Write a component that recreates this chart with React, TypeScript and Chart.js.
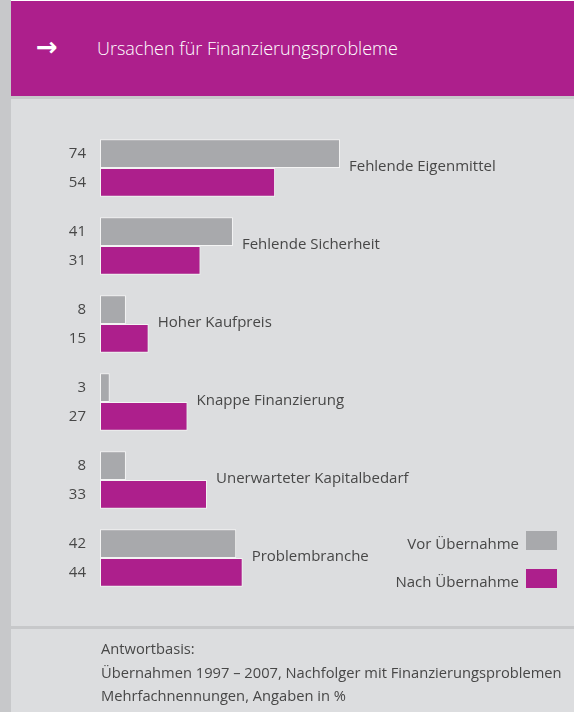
import React, { useEffect, useRef } from "react";
import { Chart, registerables } from "chart.js";

Chart.register(...registerables);

const categories = [
  "Fehlende Eigenmittel",
  "Fehlende Sicherheit",
  "Hoher Kaufpreis",
  "Knappe Finanzierung",
  "Unerwarteter Kapitalbedarf",
  "Problembranche",
];
const vorValues = [74, 41, 8, 3, 8, 42];
const nachValues = [54, 31, 15, 27, 33, 44];
const seriesNames = ["Vor Übernahme", "Nach Übernahme"];

const MAGENTA = "#ad1f8c";
const GREY = "#a8a9ac";
const BG = "#dcdddf";
const STRIP = "#c7c8ca";
const TEXT = "#474747";
const FONT = "'Open Sans', 'Noto Sans', sans-serif";

const labelsPlugin = {
  id: "customLabels",
  afterDatasetsDraw(chart: any) {
    const ctx = chart.ctx;
    ctx.save();
    ctx.font = `15px ${FONT}`;
    ctx.fillStyle = TEXT;
    ctx.textBaseline = "middle";
    const m0 = chart.getDatasetMeta(0);
    const m1 = chart.getDatasetMeta(1);
    const yScale = chart.scales.y;
    categories.forEach((cat, i) => {
      const b0 = m0.data[i];
      const b1 = m1.data[i];
      ctx.textAlign = "right";
      ctx.fillText(String(vorValues[i]), 86, b0.y);
      ctx.fillText(String(nachValues[i]), 86, b1.y);
      ctx.textAlign = "left";
      const maxX = Math.max(b0.x, b1.x);
      ctx.fillText(cat, maxX + 9, yScale.getPixelForValue(i) - 1);
    });
    // legend
    const legendItems = [
      { name: seriesNames[0], color: GREY, y: 540 },
      { name: seriesNames[1], color: MAGENTA, y: 578 },
    ];
    legendItems.forEach((it) => {
      ctx.textAlign = "right";
      ctx.fillStyle = TEXT;
      ctx.fillText(it.name, 519, it.y + 5);
      ctx.fillStyle = it.color;
      ctx.fillRect(526, it.y - 9, 31, 19);
    });
    ctx.restore();
  },
};

export default function App() {
  const ref = useRef<HTMLCanvasElement | null>(null);
  useEffect(() => {
    if (!ref.current) return;
    const chart = new Chart(ref.current, {
      type: "bar",
      data: {
        labels: categories,
        datasets: [
          {
            label: seriesNames[0],
            data: vorValues,
            backgroundColor: GREY,
            borderColor: "#f4f4f4",
            borderWidth: 1,
            borderSkipped: false,
            categoryPercentage: 0.735,
            barPercentage: 1,
          },
          {
            label: seriesNames[1],
            data: nachValues,
            backgroundColor: MAGENTA,
            borderColor: "#f4f4f4",
            borderWidth: 1,
            borderSkipped: false,
            categoryPercentage: 0.735,
            barPercentage: 1,
          },
        ],
      },
      options: {
        indexAxis: "y",
        animation: false,
        responsive: false,
        maintainAspectRatio: false,
        layout: { padding: { left: 100, right: 20, top: 129, bottom: 115 } },
        plugins: { legend: { display: false }, tooltip: { enabled: false } },
        scales: {
          x: { display: false, min: 0, max: 140, grid: { display: false } },
          y: { display: false, grid: { display: false } },
        },
      },
      plugins: [labelsPlugin],
    });
    return () => chart.destroy();
  }, []);

  const textStyle: React.CSSProperties = {
    position: "absolute",
    fontFamily: FONT,
    color: TEXT,
    fontSize: 14.7,
    whiteSpace: "nowrap",
    lineHeight: "24px",
  };

  return (
    <div
      style={{
        position: "fixed",
        left: 0,
        top: 0,
        width: 574,
        height: 712,
        background: BG,
        overflow: "hidden",
      }}
    >
      <div style={{ position: "absolute", left: 0, top: 0, width: 11, height: 712, background: STRIP }} />
      <div style={{ position: "absolute", left: 11, top: 0, width: 563, height: 1, background: "#ffffff" }} />
      <div style={{ position: "absolute", left: 11, top: 1, width: 563, height: 95, background: MAGENTA }} />
      <div style={{ position: "absolute", left: 11, top: 96, width: 563, height: 3, background: STRIP }} />
      <div style={{ position: "absolute", left: 11, top: 626, width: 563, height: 3, background: STRIP }} />
      <div
        style={{
          position: "absolute",
          left: 36,
          top: 32,
          color: "#ffffff",
          fontFamily: "'DejaVu Sans', sans-serif",
          fontSize: 26,
          lineHeight: "30px",
          fontWeight: 700,
        }}
      >
        →
      </div>
      <div
        style={{
          position: "absolute",
          left: 97,
          top: 34,
          color: "#ffffff",
          fontFamily: FONT,
          fontSize: 18,
          lineHeight: "28px",
          whiteSpace: "nowrap",
          fontWeight: 300,
        }}
      >
        Ursachen für Finanzierungsprobleme
      </div>
      <canvas ref={ref} width={574} height={712} style={{ position: "absolute", left: 0, top: 0 }} />
      <div style={{ ...textStyle, left: 101, top: 636 }}>Antwortbasis:</div>
      <div style={{ ...textStyle, left: 101, top: 660 }}>
        Übernahmen 1997 – 2007, Nachfolger mit Finanzierungsproblemen
      </div>
      <div style={{ ...textStyle, left: 101, top: 683 }}>Mehrfachnennungen, Angaben in %</div>
    </div>
  );
}
